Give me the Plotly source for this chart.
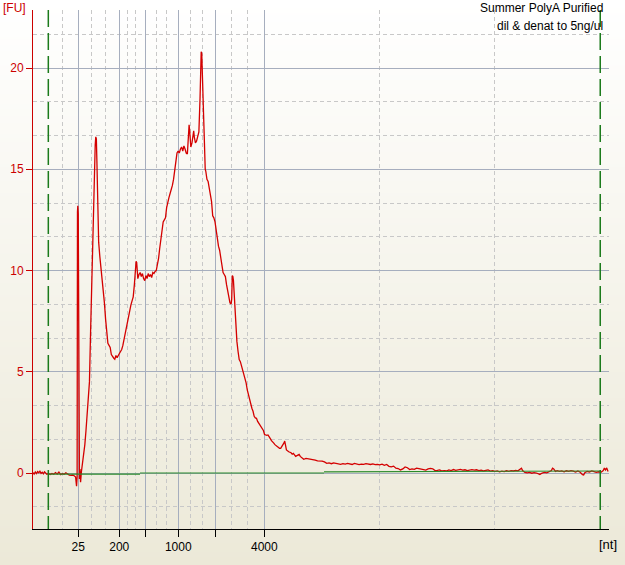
import base64, struct, zlib
import plotly.graph_objects as go

# ---------------- data (migration time in seconds, fluorescence in FU) ----------------
time_s = [
    19.0, 19.1, 19.2, 19.3, 19.4, 19.5, 19.6, 19.7, 19.8, 19.9, 20.0, 20.1, 20.2, 20.35, 20.5,
    20.65, 20.8, 20.95, 21.1, 21.25, 21.4, 21.55, 21.7, 21.85, 22.0, 22.15, 22.3, 22.45, 22.6,
    22.7, 22.78, 22.83, 22.86, 22.89, 22.93, 22.96, 23.0, 23.03, 23.08, 23.13, 23.2, 23.3,
    23.4, 23.5, 23.6, 23.7, 23.8, 23.9, 24.0, 24.05, 24.1, 24.15, 24.2, 24.25, 24.3, 24.35,
    24.4, 24.45, 24.5, 24.55, 24.6, 24.65, 24.7, 24.8, 24.9, 25.0, 25.1, 25.2, 25.3, 25.4,
    25.5, 25.6, 25.7, 25.8, 25.9, 26.0, 26.1, 26.2, 26.3, 26.4, 26.5, 26.6, 26.7, 26.8, 26.9,
    27.0, 27.1, 27.2, 27.3, 27.4, 27.5, 27.6, 27.7, 27.8, 27.85, 27.9, 27.95, 28.0, 28.05,
    28.1, 28.2, 28.3, 28.4, 28.5, 28.6, 28.7, 28.8, 28.9, 29.0, 29.1, 29.2, 29.3, 29.4, 29.5,
    29.6, 29.7, 29.8, 29.9, 30.0, 30.1, 30.2, 30.3, 30.4, 30.5, 30.6, 30.7, 30.8, 30.9, 31.0,
    31.1, 31.2, 31.3, 31.4, 31.5, 31.6, 31.7, 31.8, 31.9, 32.0, 32.1, 32.2, 32.3, 32.4, 32.45,
    32.5, 32.55, 32.6, 32.65, 32.7, 32.8, 32.9, 32.95, 33.0, 33.1, 33.2, 33.3, 33.4, 33.5,
    33.55, 33.6, 33.65, 33.7, 33.75, 33.8, 33.85, 33.9, 33.95, 34.0, 34.1, 34.2, 34.3, 34.4,
    34.5, 34.6, 34.7, 34.8, 34.9, 35.0, 35.1, 35.2, 35.3, 35.4, 35.5, 35.6, 35.7, 35.8, 35.9,
    36.0, 36.1, 36.2, 36.25, 36.3, 36.35, 36.4, 36.45, 36.5, 36.55, 36.6, 36.7, 36.8, 36.9,
    37.0, 37.1, 37.2, 37.3, 37.4, 37.5, 37.6, 37.7, 37.8, 37.9, 38.0, 38.1, 38.2, 38.3, 38.4,
    38.5, 38.6, 38.7, 38.8, 38.9, 39.0, 39.1, 39.2, 39.3, 39.4, 39.5, 39.6, 39.7, 39.8, 39.9,
    40.0, 40.1, 40.2, 40.3, 40.4, 40.5, 40.6, 40.7, 40.75, 40.8, 40.85, 40.9, 40.95, 41.0,
    41.2, 41.4, 41.5, 41.6, 41.8, 41.9, 42.0, 42.1, 42.2, 42.3, 42.5, 42.7, 42.9, 43.1, 43.3,
    43.5, 43.7, 43.9, 44.1, 44.3, 44.5, 44.7, 44.9, 45.1, 45.3, 45.5, 45.7, 45.9, 46.1, 46.3,
    46.5, 46.7, 46.9, 47.1, 47.3, 47.5, 47.7, 47.9, 48.1, 48.3, 48.5, 48.7, 48.9, 49.1, 49.3,
    49.5, 49.7, 49.9, 50.1, 50.3, 50.5, 50.7, 50.9, 51.1, 51.3, 51.5, 51.7, 51.9, 52.1, 52.3,
    52.5, 52.7, 52.9, 53.1, 53.3, 53.5, 53.7, 53.9, 54.1, 54.3, 54.5, 54.7, 54.9, 55.1, 55.3,
    55.5, 55.7, 55.9, 56.1, 56.3, 56.5, 56.7, 56.9, 57.1, 57.3, 57.5, 57.7, 57.9, 58.1, 58.3,
    58.5, 58.7, 58.9, 59.1, 59.3, 59.5, 59.7, 59.9, 60.1, 60.3, 60.5, 60.7, 60.9, 61.1, 61.3,
    61.4, 61.5, 61.7, 61.9, 62.1, 62.3, 62.5, 62.7, 62.9, 63.0, 63.2, 63.4, 63.6, 63.8, 64.0,
    64.1, 64.2, 64.35, 64.5, 64.7, 64.9, 65.1, 65.3, 65.5, 65.7, 65.9, 66.1, 66.3, 66.5, 66.7,
    66.8, 66.9, 67.1, 67.3, 67.5, 67.7, 67.9, 68.1, 68.3, 68.5, 68.6, 68.7, 68.8, 68.92,
]
fluorescence_fu = [
    0.02, -0.05, 0.05, -0.03, 0.07, 0.01, 0.09, -0.02, 0.04, -0.04, 0.06, 0.0, -0.06, -0.03, -0.07,
    -0.02, -0.06, 0.02, -0.05, 0.05, -0.08, -0.03, -0.06, 0.01, -0.07, -0.1, -0.12, -0.1, -0.15,
    -0.2, -0.65, -0.2, 12.9, 13.2, 12.8, 8.7, 1.0, -0.3, 0.2, -0.45, 0.05, 0.5,
    0.9, 1.4, 2.1, 2.8, 3.4, 4.5, 7.0, 8.3, 9.5, 10.2, 10.8, 11.8, 13.2, 14.5,
    16.2, 16.6, 16.5, 15.3, 14.0, 12.6, 11.4, 10.7, 10.2, 9.7, 9.0, 8.4, 7.6, 6.8,
    6.4, 6.3, 6.2, 5.85, 5.72, 5.68, 5.62, 5.8, 5.7, 5.85, 5.9, 6.0, 6.1, 6.3, 6.6,
    6.9, 7.2, 7.4, 7.7, 8.0, 8.3, 8.5, 8.7, 9.3, 9.9, 10.3, 10.45, 10.4, 10.0,
    9.6, 9.8, 9.9, 9.7, 9.85, 9.6, 9.5, 9.75, 9.6, 9.85, 9.7, 9.8, 9.65, 9.9, 9.85,
    9.95, 10.0, 10.3, 10.6, 11.1, 11.6, 12.1, 12.4, 12.5, 12.6, 13.1, 13.4, 13.6, 13.8, 13.95,
    14.2, 14.5, 14.9, 15.5, 15.8, 15.9, 15.8, 16.0, 16.1, 15.9, 16.15, 16.0, 15.8, 15.75, 16.5,
    17.1, 17.2, 16.9, 16.3, 16.1, 16.3, 16.8, 16.9, 16.6, 16.3, 16.4, 16.7, 16.85, 18.5,
    20.5, 20.8, 20.7, 19.2, 18.8, 17.8, 16.9, 15.6, 15.0, 14.9, 14.5, 14.4, 14.0, 13.7,
    13.4, 12.7, 12.6, 12.4, 11.9, 11.4, 11.2, 11.0, 10.6, 10.3, 9.9, 9.8, 9.7, 9.3, 9.0,
    8.85, 8.4, 8.35, 8.6, 9.75, 9.7, 9.5, 9.0, 8.6, 7.8, 7.1, 6.5, 6.0, 5.6,
    5.5, 5.3, 5.1, 4.9, 4.7, 4.45, 4.1, 3.85, 3.75, 3.45, 3.2, 3.05, 2.8, 2.72, 2.7,
    2.55, 2.45, 2.42, 2.3, 2.22, 2.1, 1.9, 1.88, 1.86, 1.88, 1.75, 1.7, 1.6, 1.55, 1.48,
    1.4, 1.35, 1.3, 1.25, 1.22, 1.22, 1.3, 1.36, 1.4, 1.5, 1.58, 1.4, 1.15, 1.14,
    1.05, 1.0, 0.93, 0.97, 0.82, 0.86, 0.88, 0.92, 0.82, 0.77, 0.68, 0.72, 0.7, 0.7, 0.66,
    0.64, 0.6, 0.6, 0.59, 0.55, 0.48, 0.5, 0.46, 0.5, 0.47, 0.45, 0.43, 0.46, 0.44, 0.47,
    0.45, 0.42, 0.47, 0.45, 0.41, 0.44, 0.43, 0.46, 0.44, 0.42, 0.45, 0.41, 0.43, 0.4, 0.44,
    0.38, 0.42, 0.33, 0.3, 0.34, 0.24, 0.22, 0.15, 0.2, 0.3, 0.26, 0.17, 0.2, 0.18, 0.24,
    0.22, 0.2, 0.19, 0.14, 0.2, 0.23, 0.21, 0.12, 0.13, 0.15, 0.1, 0.12, 0.1, 0.15, 0.12,
    0.17, 0.13, 0.15, 0.18, 0.14, 0.16, 0.12, 0.15, 0.17, 0.14, 0.16, 0.12, 0.14, 0.1, 0.12,
    0.15, 0.09, 0.11, 0.08, 0.1, 0.06, 0.09, 0.07, 0.11, 0.08, 0.12, 0.1, 0.13, 0.11, 0.18,
    0.24, 0.12, 0.03, 0.01, 0.03, -0.01, 0.02, 0.0, -0.04, -0.07, 0.0, 0.03, 0.01, 0.05, 0.12,
    0.24, 0.2, 0.08, 0.12, 0.08, 0.1, 0.06, 0.11, 0.08, 0.12, 0.09, 0.05, 0.1, 0.04, -0.08,
    -0.1, 0.02, 0.08, 0.05, 0.1, 0.07, 0.03, 0.06, 0.04, 0.12, 0.24, 0.15, 0.25, 0.08,
]

# baseline (green) segments, None separates segments
baseline_time_s = [20.33, 28.29, None, 28.29, 44.26, None, 44.26, 68.24]
baseline_fu = [-0.06, -0.06, None, 0.0, 0.0, None, 0.06, 0.1]

# ladder sizes and their migration times
ladder_nt = [25, 200, 500, 1000, 2000, 4000]
ladder_labels = ["25", "200", "", "1000", "", "4000"]
ladder_time_s = [22.93, 26.49, 28.75, 31.61, 34.82, 39.08]
minor_grid_time_s = [21.54, 24.08, 25.25, 27.20, 27.88, 29.68, 30.63, 32.67, 33.71,
                     36.23, 37.62, 49.06, 59.04]
marker_bounds_s = [20.33, 68.24]
fu_ticks = [0, 5, 10, 15, 20]

title_lines = ["Summer PolyA Purified", "dil & denat to 5ng/ul"]

# ---------------- styling ----------------
W, H = 625, 565
ML, MR, MT, MB = 33, 16, 10, 36
PW, PH = W - ML - MR, H - MT - MB
RED = "#CC0000"
GREEN = "#1B7A1B"
FONT = "Liberation Sans, Arial, sans-serif"


def gradient_png(h, top, bot):
    rows = b"".join(
        b"\x00" + bytes(int(round(top[c] + (bot[c] - top[c]) * y / (h - 1))) for c in range(3))
        for y in range(h))

    def chunk(tag, data):
        return (struct.pack(">I", len(data)) + tag + data +
                struct.pack(">I", zlib.crc32(tag + data) & 0xFFFFFFFF))

    png = (b"\x89PNG\r\n\x1a\n" +
           chunk(b"IHDR", struct.pack(">IIBBBBB", 1, h, 8, 2, 0, 0, 0)) +
           chunk(b"IDAT", zlib.compress(rows)) + chunk(b"IEND", b""))
    return "data:image/png;base64," + base64.b64encode(png).decode()


fig = go.Figure()
fig.add_trace(go.Scatter(x=time_s, y=fluorescence_fu, mode="lines",
                         line=dict(color="#D40000", width=1.3), hoverinfo="skip"))
fig.add_trace(go.Scatter(x=baseline_time_s, y=baseline_fu, mode="lines",
                         line=dict(color="#2A8A2A", width=1.2), hoverinfo="skip",
                         connectgaps=False))

for t in marker_bounds_s:
    fig.add_shape(type="line", xref="x", yref="paper", x0=t, x1=t, y0=1, y1=0,
                  line=dict(color=GREEN, width=1.5, dash="17px,6px"))

fig.add_layout_image(dict(
    source=gradient_png(H, (255, 255, 255), (236, 233, 216)),
    xref="paper", yref="paper", x=-ML / PW, y=1 + MT / PH,
    sizex=W / PW, sizey=H / PH, sizing="stretch",
    xanchor="left", yanchor="top", layer="below"))

fig.add_annotation(text="[FU]", xref="paper", yref="paper", x=(1 - ML) / PW, y=1,
                   xanchor="left", yanchor="middle", yshift=2.5, showarrow=False,
                   font=dict(family=FONT, size=12, color=RED))
fig.add_annotation(text="[nt]", xref="paper", yref="paper", x=(597 - ML) / PW, y=0,
                   xanchor="left", yanchor="middle", yshift=-15, showarrow=False,
                   font=dict(family=FONT, size=13, color="black"))
for i, line in enumerate(title_lines):
    fig.add_annotation(text=line, xref="paper", yref="paper", x=(605 - ML) / PW, y=1,
                       xanchor="right", yanchor="middle", yshift=2.5 - 18 * i,
                       showarrow=False, font=dict(family=FONT, size=12, color="black"))

fig.update_layout(
    width=W, height=H, margin=dict(l=ML, r=MR, t=MT, b=MB, pad=0),
    paper_bgcolor="#F6F4EE", plot_bgcolor="rgba(0,0,0,0)",
    showlegend=False, font=dict(family=FONT, size=12),
    xaxis=dict(range=[19, 69], showline=True, linecolor="black", linewidth=1,
               ticks="outside", ticklen=7, tickcolor="black",
               tickmode="array", tickvals=ladder_time_s, ticktext=ladder_labels,
               tickfont=dict(family=FONT, size=12, color="black"),
               showgrid=True, gridcolor="#A6AEBE", gridwidth=1, zeroline=False,
               minor=dict(tickmode="array", tickvals=minor_grid_time_s, showgrid=True,
                          gridcolor="#C8C8C8", griddash="4px,3px", ticks="")),
    yaxis=dict(range=[-2.765, 22.864], showline=True, linecolor=RED, linewidth=1,
               ticks="outside", ticklen=6, tickcolor=RED,
               tickmode="array", tickvals=fu_ticks,
               tickfont=dict(family=FONT, size=12, color=RED),
               showgrid=True, gridcolor="#A6AEBE", gridwidth=1, zeroline=False,
               minor=dict(tickmode="linear", tick0=0, dtick=5 / 3, showgrid=True,
                          gridcolor="#C8C8C8", griddash="4px,3px", ticks="")),
)

fig.write_html("out.html", config={"displayModeBar": False, "staticPlot": True},
               post_script="document.body.style.margin='0';document.body.style.overflow='hidden';")
